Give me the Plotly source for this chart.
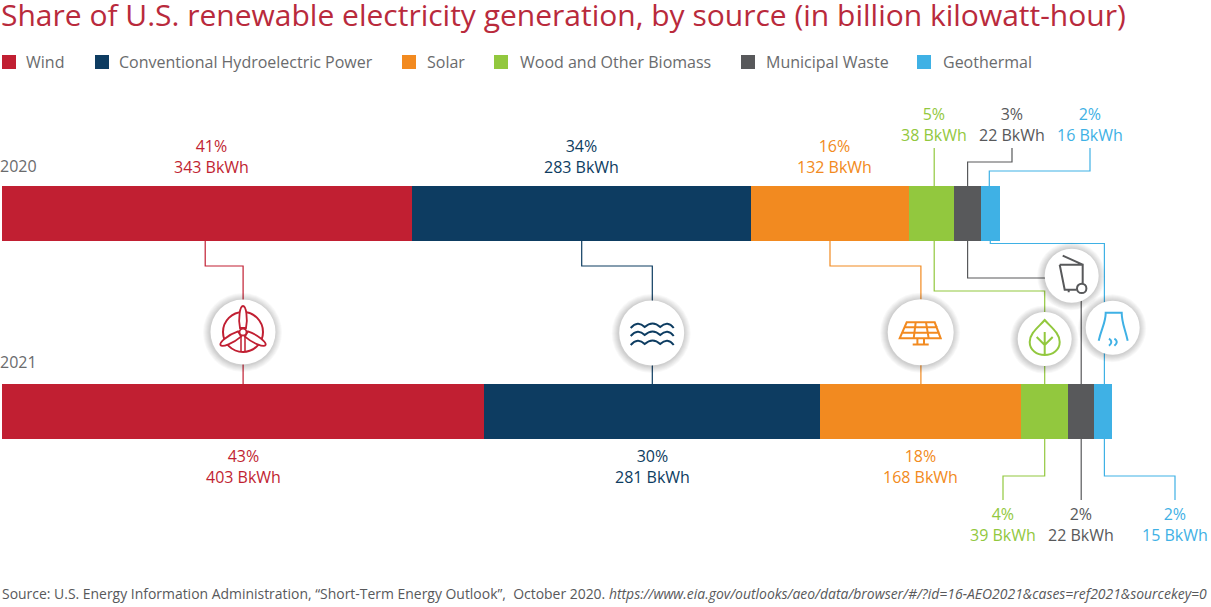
import math
import re
import plotly.graph_objects as go

# values (billion kWh)
years = ["2020", "2021"]
sources = ["Wind", "Conventional Hydroelectric Power", "Solar", "Wood and Other Biomass", "Municipal Waste", "Geothermal"]
wind = [343, 403]
hydro = [283, 281]
solar = [132, 168]
biomass = [38, 39]
waste = [22, 22]
geothermal = [16, 15]
shares_2020 = [41, 34, 16, 5, 3, 2]
shares_2021 = [43, 30, 18, 4, 2, 2]
colors = ["#c11f32", "#0d3c61", "#f28a20", "#92c83e", "#58595b", "#3fb1e5"]

W, H = 1211, 607
X0, SCALE = 2, 1.1965
BAR_TOP = [186, 384]
BAR_H = 55

series = [wind, hydro, solar, biomass, waste, geothermal]


def px(x):
    return x / W


def py(y):
    return 1 - y / H


def seg_mid(year, src):
    before = sum(s[year] for s in series[:src])
    return X0 + (before + series[src][year] / 2) * SCALE


def to_path(d, cx=0, cy=0, rot=0):
    # local svg path (pixels, y down) -> paper coordinates
    nums = re.findall(r"[A-Za-z]|-?[\d.]+", d)
    out, pair = [], []
    c, s = math.cos(math.radians(rot)), math.sin(math.radians(rot))
    for tok in nums:
        if tok.isalpha():
            out.append(tok)
        else:
            pair.append(float(tok))
            if len(pair) == 2:
                x = pair[0] * c - pair[1] * s + cx
                y = pair[0] * s + pair[1] * c + cy
                out.append(f"{px(x):.5f},{py(y):.5f}")
                pair = []
    return " ".join(out)


def poly(points):
    return "M" + " L".join(f"{x:.1f},{y:.1f}" for x, y in points)


shapes = []


def add_path(d, color, width=1.2, cx=0, cy=0, rot=0, fill=None):
    shapes.append(dict(type="path", path=to_path(d, cx, cy, rot), xref="paper", yref="paper",
                       line=dict(color=color, width=width),
                       fillcolor=fill if fill else "rgba(0,0,0,0)"))


def add_circle(cx, cy, r, fill="rgba(0,0,0,0)", line=None, width=0, opacity=1):
    shapes.append(dict(type="circle", xref="paper", yref="paper",
                       x0=px(cx - r), x1=px(cx + r), y0=py(cy + r), y1=py(cy - r),
                       fillcolor=fill, opacity=opacity,
                       line=dict(color=line if line else "rgba(0,0,0,0)", width=width)))


fig = go.Figure()
for name, vals, col in zip(sources, series, colors):
    fig.add_trace(go.Bar(y=years, x=vals, name=name, orientation="h", marker=dict(color=col, line=dict(width=0))))

# connectors between the two bars
top_x = [seg_mid(0, i) for i in range(6)]
top_x[0] -= 2
top_x[3] += 2.5
bot_x = [seg_mid(1, i) for i in range(6)]
bot_x[5] += 1
elbow_y = [266, 266, 266, 291, 278, 243.5]
bar1_bottom = BAR_TOP[0] + BAR_H
for i in range(6):
    add_path(poly([(top_x[i], bar1_bottom), (top_x[i], elbow_y[i]), (bot_x[i], elbow_y[i]), (bot_x[i], BAR_TOP[1])]), colors[i])

# leader lines to the outer labels
top_label_x = [212, 581, 834, top_x[3], 1012, 1090]
add_path(poly([(top_x[3], 148), (top_x[3], BAR_TOP[0])]), colors[3])
add_path(poly([(1012, 148), (1012, 162), (top_x[4], 162), (top_x[4], BAR_TOP[0])]), colors[4])
add_path(poly([(1090, 148), (1090, 171), (top_x[5] - 1, 171), (top_x[5] - 1, BAR_TOP[0])]), colors[5])
bot_label_x = [bot_x[0], bot_x[1], bot_x[2], 1003, bot_x[4], 1175]
bar2_bottom = BAR_TOP[1] + BAR_H
add_path(poly([(bot_x[3], bar2_bottom), (bot_x[3], 476), (1003, 476), (1003, 500)]), colors[3])
add_path(poly([(bot_x[4], bar2_bottom), (bot_x[4], 500)]), colors[4])
add_path(poly([(bot_x[5], bar2_bottom), (bot_x[5], 476), (1175, 476), (1175, 500)]), colors[5])

# icon discs with a soft shadow
discs = [(243, 332, 32.5), (651.7, 333, 32.5), (920.7, 332.3, 33), (1044.7, 339, 27), (1071.7, 275.7, 27), (1112.7, 327.7, 27)]
for cx, cy, r in discs:
    for k in range(7, 0, -1):
        add_circle(cx - 0.5, cy + 0.5, r + k, fill="#000000", opacity=0.028)
    add_circle(cx, cy, r, fill="#ffffff")

# wind
cx, cy, r = discs[0]
add_circle(cx, cy, 20, line=colors[0], width=2)
add_path("M-2,4 L-2,19 M2,4 L2,19", colors[0], 1.5, cx, cy)
for rot in (0, 120, 240):
    add_path("M0,-26 C3,-26 5,-14 3,-4 L-3,-4 C-5,-14 -3,-26 0,-26 Z", colors[0], 1.8, cx, cy, rot, fill="#ffffff")
add_circle(cx, cy, 3.5, fill="#ffffff", line=colors[0], width=1.8)

# hydro
cx, cy, r = discs[1]
for dy in (-8, 0, 9):
    add_path(f"M-21,{dy + 3} Q-14,{dy - 5} -7,{dy + 2} Q1,{dy - 5} 8.5,{dy + 2} Q16,{dy - 5} 22,{dy + 3}", colors[1], 2, cx, cy)

# solar
cx, cy, r = discs[2]
add_path("M-14,-10 L14,-10 L20,6 L-21,6 Z M-17,-5 L17,-5 M-19,0.5 L19,0.5 M-5,-10 L-7,6 M5.3,-10 L8,6 "
         "M-3.3,6 L-3.3,12.3 M3.3,6 L3.3,12.3 M-8,12.3 L8,12.3", colors[2], 2, cx, cy)

# biomass
cx, cy, r = discs[3]
add_path("M0,-19 C-6,-12 -15,-6 -15,3 C-15,11 -8,16 0,16 C8,16 15,11 15,3 C15,-6 6,-12 0,-19 Z "
         "M0,-7 L0,16 M-8,-2 L0,6 L8,-2", colors[3], 2, cx, cy)

# waste
cx, cy, r = discs[4]
add_path("M-12,-11 L11,-11 L11,8 M-12,-11 L-7,14 L5,14 M-9,-20 L11,-11 M-3,14 L-3,16.5", colors[4], 2, cx, cy)
add_circle(cx + 10, cy + 12.7, 4.7, fill="#ffffff", line=colors[4], width=2)

# geothermal
cx, cy, r = discs[5]
add_path("M-14,13 C-11,0 -7,-5 -7,-15 L9,-15 C9,-5 12,0 15,13 "
         "M-3.7,11 Q1,14 -3.7,18 M1.7,11 Q6.5,14 1.7,18", colors[5], 2, cx, cy)

# legend
legend_box_x = [2, 95, 402, 494, 741, 917]
legend_text_x = [26, 119, 427, 519.5, 766, 943]
for i in range(6):
    shapes.append(dict(type="rect", xref="paper", yref="paper", x0=px(legend_box_x[i]), x1=px(legend_box_x[i] + 14),
                       y0=py(69), y1=py(55), fillcolor=colors[i], line=dict(width=0)))

FONT = "Open Sans"
GREY = "#6a6b6d"
annotations = []


def add_text(x, y, text, color, size=16, xanchor="center"):
    annotations.append(dict(x=px(x), y=py(y), xref="paper", yref="paper", text=text, showarrow=False,
                            xanchor=xanchor, yanchor="middle", align=xanchor if xanchor != "center" else "center",
                            font=dict(family=FONT, size=size, color=color), borderpad=0, borderwidth=0))


add_text(1, 14, "Share of U.S. renewable electricity generation, by source (in billion kilowatt-hour)", "#b92a3c", 30, "left")
for i, name in enumerate(sources):
    add_text(legend_text_x[i], 61.5, name, GREY, 16, "left")
add_text(0, 165.5, years[0], GREY, 16, "left")
add_text(0, 361.5, years[1], GREY, 16, "left")

top_label_y = [156, 156, 156, 124, 124, 124]
bot_label_y = [466, 466, 466, 524, 524, 524]
for i in range(6):
    add_text(top_label_x[i], top_label_y[i], f"{shares_2020[i]}%<br>{series[i][0]} BkWh", colors[i])
    add_text(bot_label_x[i], bot_label_y[i], f"{shares_2021[i]}%<br>{series[i][1]} BkWh", colors[i])

add_text(2, 593, "Source: U.S. Energy Information Administration, “Short-Term Energy Outlook”,&nbsp; October 2020. "
         "<i>https://www.eia.gov/outlooks/aeo/data/browser/#/?id=16-AEO2021&cases=ref2021&sourcekey=0</i>", "#58595b", 13.95, "left")

fig.update_layout(
    width=W, height=H, autosize=False,
    margin=dict(l=0, r=0, t=0, b=0, pad=0),
    paper_bgcolor="#ffffff", plot_bgcolor="#ffffff",
    barmode="stack", bargap=1 - BAR_H / (BAR_TOP[1] - BAR_TOP[0]),
    showlegend=False,
    xaxis=dict(visible=False, range=[-X0 / SCALE, (W - X0) / SCALE]),
    yaxis=dict(visible=False, type="category", categoryorder="array", categoryarray=years,
               range=[(H - BAR_TOP[0] - BAR_H / 2) / (BAR_TOP[1] - BAR_TOP[0]), -(BAR_TOP[0] + BAR_H / 2) / (BAR_TOP[1] - BAR_TOP[0])]),
    shapes=shapes,
    annotations=annotations,
)

fig.write_html("out.html", config=dict(displayModeBar=False),
               post_script="document.body.style.margin='0';document.body.style.overflow='hidden';")
